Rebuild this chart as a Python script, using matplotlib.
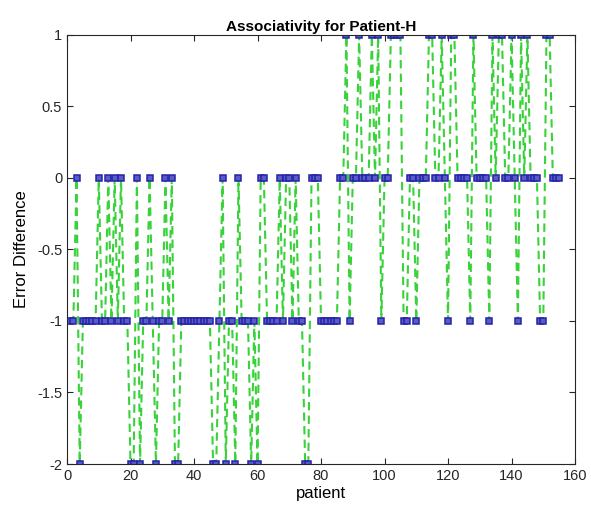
import matplotlib
matplotlib.use("Agg")
import matplotlib.pyplot as plt

plt.rcParams['font.family'] = ['Liberation Sans', 'DejaVu Sans']

patient = list(range(1, 156))
error_diff = [
    -1, -1, 0, -2, -1, -1, -1, -1, -1, 0,      # 1-10
    -1, -1, 0, -1, 0, -1, 0, -1, -1, -2,       # 11-20
    -2, 0, -2, -1, -1, 0, -1, -2, -1, -1,      # 21-30
    0, -1, 0, -2, -2, -1, -1, -1, -1, -1,      # 31-40
    -1, -1, -1, -1, -1, -2, -2, -1, 0, -2,     # 41-50
    -1, -1, -2, 0, -1, -1, -1, -2, -1, -2,     # 51-60
    0, 0, -1, -1, -1, -1, 0, -1, 0, 0,         # 61-70
    -1, 0, -1, -1, -2, -2, 0, 0, 0, -1,        # 71-80
    -1, -1, -1, -1, -1, 0, 0, 1, -1, 0,        # 81-90
    0, 1, 0, 0, 0, 1, 0, 1, -1, 0,             # 91-100
    0, 1, 1, 1, 1, -1, -1, 0, 0, -1,           # 101-110
    0, 0, 0, 1, 1, 0, 0, 1, 0, -1,             # 111-120
    1, 1, 0, 0, 0, 0, -1, 1, 0, 0,             # 121-130
    0, 0, -1, 1, 0, 1, 1, 0, 0, 1,             # 131-140
    0, -1, 1, 0, 1, 0, 0, 0, -1, -1,           # 141-150
    1, 1, 0, 0, 0,                             # 151-155
]

xticks = [0, 20, 40, 60, 80, 100, 120, 140, 160]
yticks = [-2, -1.5, -1, -0.5, 0, 0.5, 1]
ytick_labels = ['-2', '-1.5', '-1', '-0.5', '0', '0.5', '1']

fig = plt.figure(figsize=(5.91, 5.22), dpi=100)
ax = fig.add_axes([0.1134, 0.1111, 0.8596, 0.822])

ax.plot(patient, error_diff, linestyle=(0, (4, 2.5)), color='#3ad23a', linewidth=1.5,
        marker='s', markersize=4.8, markeredgecolor='#2424a8', markerfacecolor='#5a5ac8',
        markeredgewidth=1.1)

ax.set_xlim(0, 160)
ax.set_ylim(-2, 1)
ax.set_xticks(xticks)
ax.set_yticks(yticks)
ax.set_yticklabels(ytick_labels)
ax.tick_params(direction='in', length=4, width=0.8, labelsize=10.5, top=True, right=True,
               labeltop=False, labelright=False, colors='#262626')
for s in ax.spines.values():
    s.set_linewidth(0.8)
    s.set_color('#262626')

ax.set_title('Associativity for Patient-H', fontsize=11, fontweight='bold', pad=3)
ax.set_xlabel('patient', fontsize=12, labelpad=2)
ax.set_ylabel('Error Difference', fontsize=12, labelpad=6)

fig.savefig('out.png', dpi=100, facecolor='white')
